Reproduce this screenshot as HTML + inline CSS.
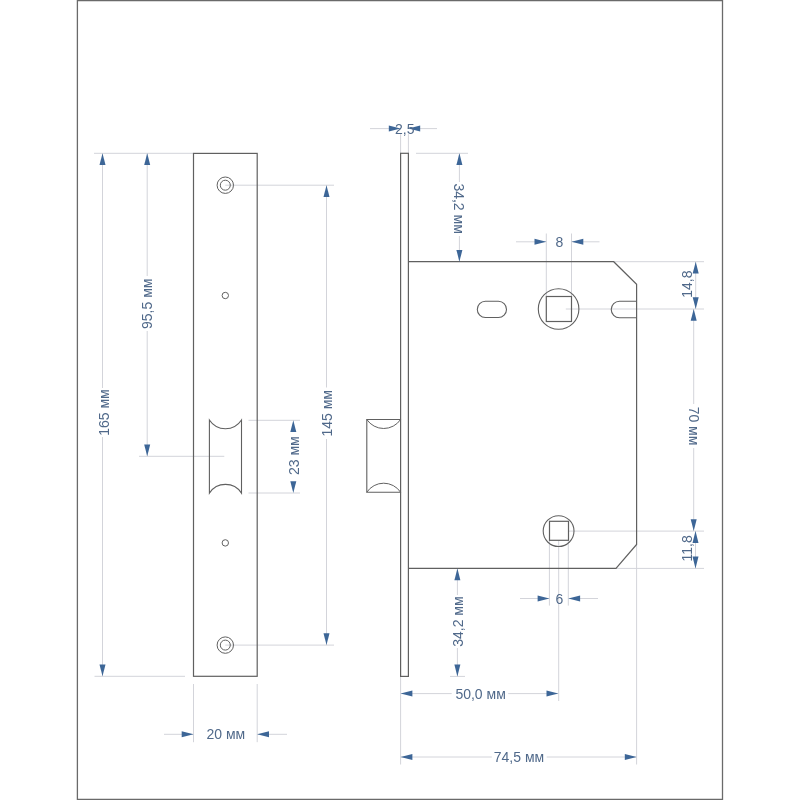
<!DOCTYPE html>
<html><head><meta charset="utf-8"><style>
html,body{margin:0;padding:0;background:#fff;width:800px;height:800px;overflow:hidden}
svg{display:block;will-change:transform}
text{font-family:"Liberation Sans",sans-serif}
</style></head><body>
<svg width="800" height="800" viewBox="0 0 800 800" font-family="Liberation Sans, sans-serif">
<line x1="225.3" y1="185.2" x2="334" y2="185.2" stroke="#d3d4da" stroke-width="1"/>
<line x1="225.3" y1="645.1" x2="334" y2="645.1" stroke="#d3d4da" stroke-width="1"/>
<line x1="94" y1="153.3" x2="193.5" y2="153.3" stroke="#d3d4da" stroke-width="1"/>
<line x1="94.5" y1="676.3" x2="185" y2="676.3" stroke="#d3d4da" stroke-width="1"/>
<line x1="102.5" y1="153.3" x2="102.5" y2="388" stroke="#d3d4da" stroke-width="1"/>
<line x1="102.5" y1="437" x2="102.5" y2="676.3" stroke="#d3d4da" stroke-width="1"/>
<line x1="147.2" y1="153.3" x2="147.2" y2="276" stroke="#d3d4da" stroke-width="1"/>
<line x1="147.2" y1="331" x2="147.2" y2="456.3" stroke="#d3d4da" stroke-width="1"/>
<line x1="139" y1="456.3" x2="224.3" y2="456.3" stroke="#d3d4da" stroke-width="1"/>
<line x1="326.5" y1="185.2" x2="326.5" y2="387.5" stroke="#d3d4da" stroke-width="1"/>
<line x1="326.5" y1="439" x2="326.5" y2="645.1" stroke="#d3d4da" stroke-width="1"/>
<line x1="248.5" y1="420.3" x2="300" y2="420.3" stroke="#d3d4da" stroke-width="1"/>
<line x1="248.5" y1="493.0" x2="300" y2="493.0" stroke="#d3d4da" stroke-width="1"/>
<line x1="193.5" y1="684" x2="193.5" y2="742.2" stroke="#d3d4da" stroke-width="1"/>
<line x1="257.2" y1="684" x2="257.2" y2="742.2" stroke="#d3d4da" stroke-width="1"/>
<line x1="164" y1="734.3" x2="193.5" y2="734.3" stroke="#d3d4da" stroke-width="1"/>
<line x1="257.2" y1="734.3" x2="287" y2="734.3" stroke="#d3d4da" stroke-width="1"/>
<line x1="400.6" y1="134.2" x2="400.6" y2="153.3" stroke="#d3d4da" stroke-width="1"/>
<line x1="408.4" y1="134.2" x2="408.4" y2="153.3" stroke="#d3d4da" stroke-width="1"/>
<line x1="370" y1="128.6" x2="400.6" y2="128.6" stroke="#d3d4da" stroke-width="1"/>
<line x1="408.4" y1="128.6" x2="437" y2="128.6" stroke="#d3d4da" stroke-width="1"/>
<line x1="416" y1="153.3" x2="468" y2="153.3" stroke="#d3d4da" stroke-width="1"/>
<line x1="459.4" y1="153.3" x2="459.4" y2="182" stroke="#d3d4da" stroke-width="1"/>
<line x1="459.4" y1="236" x2="459.4" y2="261.7" stroke="#d3d4da" stroke-width="1"/>
<line x1="546.3" y1="233.5" x2="546.3" y2="296.5" stroke="#d3d4da" stroke-width="1"/>
<line x1="571.5" y1="233.5" x2="571.5" y2="296.5" stroke="#d3d4da" stroke-width="1"/>
<line x1="516" y1="241.8" x2="546.3" y2="241.8" stroke="#d3d4da" stroke-width="1"/>
<line x1="571.5" y1="241.8" x2="599.5" y2="241.8" stroke="#d3d4da" stroke-width="1"/>
<line x1="613.7" y1="261.7" x2="704" y2="261.7" stroke="#d3d4da" stroke-width="1"/>
<line x1="565.8" y1="309" x2="704" y2="309" stroke="#d3d4da" stroke-width="1"/>
<line x1="568.5" y1="531.1" x2="704" y2="531.1" stroke="#d3d4da" stroke-width="1"/>
<line x1="616" y1="568.4" x2="704" y2="568.4" stroke="#d3d4da" stroke-width="1"/>
<line x1="695.7" y1="261.7" x2="695.7" y2="309" stroke="#d3d4da" stroke-width="1"/>
<line x1="693.7" y1="309" x2="693.7" y2="404" stroke="#d3d4da" stroke-width="1"/>
<line x1="693.7" y1="448" x2="693.7" y2="531.1" stroke="#d3d4da" stroke-width="1"/>
<line x1="695.5" y1="531.1" x2="695.5" y2="568.4" stroke="#d3d4da" stroke-width="1"/>
<line x1="549.4" y1="540.3" x2="549.4" y2="605.6" stroke="#d3d4da" stroke-width="1"/>
<line x1="568.3" y1="540.3" x2="568.3" y2="605.6" stroke="#d3d4da" stroke-width="1"/>
<line x1="558.7" y1="540.3" x2="558.7" y2="701" stroke="#d3d4da" stroke-width="1"/>
<line x1="520" y1="598.5" x2="549.4" y2="598.5" stroke="#d3d4da" stroke-width="1"/>
<line x1="568.3" y1="598.5" x2="598" y2="598.5" stroke="#d3d4da" stroke-width="1"/>
<line x1="450" y1="676.4" x2="465" y2="676.4" stroke="#d3d4da" stroke-width="1"/>
<line x1="457.4" y1="568.4" x2="457.4" y2="595" stroke="#d3d4da" stroke-width="1"/>
<line x1="457.4" y1="648" x2="457.4" y2="676.4" stroke="#d3d4da" stroke-width="1"/>
<line x1="400.6" y1="676.4" x2="400.6" y2="764.5" stroke="#d3d4da" stroke-width="1"/>
<line x1="636.6" y1="544.5" x2="636.6" y2="764.5" stroke="#d3d4da" stroke-width="1"/>
<line x1="400.6" y1="693.6" x2="451.7" y2="693.6" stroke="#d3d4da" stroke-width="1"/>
<line x1="508.2" y1="693.6" x2="558.3" y2="693.6" stroke="#d3d4da" stroke-width="1"/>
<line x1="400.6" y1="757" x2="491.8" y2="757" stroke="#d3d4da" stroke-width="1"/>
<line x1="546.7" y1="757" x2="636.6" y2="757" stroke="#d3d4da" stroke-width="1"/>
<rect x="77.4" y="0.6" width="645.1" height="798.8" fill="none" stroke="#6a6a6a" stroke-width="1.3"/>
<rect x="193.5" y="153.4" width="63.69999999999999" height="522.9" fill="none" stroke="#606060" stroke-width="1.2"/>
<circle cx="225.3" cy="185.2" r="8.2" fill="none" stroke="#606060" stroke-width="1"/>
<circle cx="225.3" cy="185.2" r="5" fill="none" stroke="#606060" stroke-width="1"/>
<circle cx="225.3" cy="645.1" r="8.2" fill="none" stroke="#606060" stroke-width="1"/>
<circle cx="225.3" cy="645.1" r="5" fill="none" stroke="#606060" stroke-width="1"/>
<circle cx="225.3" cy="295.5" r="3.2" fill="none" stroke="#606060" stroke-width="1"/>
<circle cx="225.3" cy="542.9" r="3.2" fill="none" stroke="#606060" stroke-width="1"/>
<path d="M209.4,420.0 A19.15,19.15 0 0 0 241.5,420.0 L241.5,493.1 A19.15,19.15 0 0 0 209.4,493.1 Z" fill="none" stroke="#606060" stroke-width="1.1"/>
<polygon points="102.50,153.30 99.50,165.10 105.50,165.10" fill="#3d6697"/>
<polygon points="102.50,676.30 99.50,664.50 105.50,664.50" fill="#3d6697"/>
<text transform="translate(109.3 412.5) rotate(-90)" font-size="14" fill="#50698a" text-anchor="middle">165 мм</text>
<polygon points="147.20,153.30 144.20,165.10 150.20,165.10" fill="#3d6697"/>
<polygon points="147.20,456.30 144.20,444.50 150.20,444.50" fill="#3d6697"/>
<text transform="translate(151.8 303.8) rotate(-90)" font-size="14" fill="#50698a" text-anchor="middle">95,5 мм</text>
<polygon points="326.50,185.20 323.50,197.00 329.50,197.00" fill="#3d6697"/>
<polygon points="326.50,645.10 323.50,633.30 329.50,633.30" fill="#3d6697"/>
<text transform="translate(332.3 413.3) rotate(-90)" font-size="14" fill="#50698a" text-anchor="middle">145 мм</text>
<polygon points="293.30,420.30 290.30,432.10 296.30,432.10" fill="#3d6697"/>
<polygon points="293.30,493.00 290.30,481.20 296.30,481.20" fill="#3d6697"/>
<text transform="translate(298.5 455.7) rotate(-90)" font-size="14" fill="#50698a" text-anchor="middle">23 мм</text>
<polygon points="193.50,734.30 181.70,731.30 181.70,737.30" fill="#3d6697"/>
<polygon points="257.20,734.30 269.00,731.30 269.00,737.30" fill="#3d6697"/>
<text x="225.9" y="739.1" font-size="14" fill="#50698a" text-anchor="middle">20 мм</text>
<rect x="400.6" y="153.3" width="7.7999999999999545" height="523.0999999999999" fill="none" stroke="#606060" stroke-width="1.2"/>
<path d="M408.4,261.7 L613.7,261.7 L636.6,284.3 L636.6,544.5 L616,568.4 L408.4,568.4" fill="none" stroke="#606060" stroke-width="1.2"/>
<path d="M400.6,419.5 L366.8,419.5 L366.8,492.2 L400.6,492.2" fill="none" stroke="#606060" stroke-width="1.1"/>
<path d="M366.8,419.5 A20.37,20.37 0 0 0 400.6,419.5 M366.8,492.2 A20.37,20.37 0 0 1 400.6,492.2" fill="none" stroke="#606060" stroke-width="1"/>
<rect x="477.3" y="301.3" width="29.2" height="16.2" rx="8.1" ry="8.1" fill="none" stroke="#606060" stroke-width="1.1"/>
<path d="M636.6,301.2 L619.5,301.2 A8.25,8.25 0 0 0 619.5,317.7 L636.6,317.7" fill="none" stroke="#606060" stroke-width="1.1"/>
<circle cx="558.6" cy="309" r="20.3" fill="none" stroke="#606060" stroke-width="1.1"/>
<rect x="546.3" y="296.5" width="25.2" height="25" fill="none" stroke="#606060" stroke-width="1.2"/>
<circle cx="558.6" cy="531.1" r="15.4" fill="none" stroke="#606060" stroke-width="1.1"/>
<rect x="549.5" y="521.3" width="19" height="19" fill="none" stroke="#606060" stroke-width="1.2"/>
<polygon points="400.60,128.60 388.80,125.60 388.80,131.60" fill="#3d6697"/>
<polygon points="408.40,128.60 420.20,125.60 420.20,131.60" fill="#3d6697"/>
<text x="404.8" y="133.8" font-size="14" fill="#50698a" text-anchor="middle">2,5</text>
<polygon points="459.40,153.30 456.40,165.10 462.40,165.10" fill="#3d6697"/>
<polygon points="459.40,261.70 456.40,249.90 462.40,249.90" fill="#3d6697"/>
<text transform="translate(453.8 208.6) rotate(90)" font-size="14" fill="#50698a" text-anchor="middle">34,2 мм</text>
<polygon points="546.30,241.80 534.50,238.80 534.50,244.80" fill="#3d6697"/>
<polygon points="571.50,241.80 583.30,238.80 583.30,244.80" fill="#3d6697"/>
<text x="559.4" y="246.7" font-size="14" fill="#50698a" text-anchor="middle">8</text>
<polygon points="695.70,261.70 692.70,273.50 698.70,273.50" fill="#3d6697"/>
<polygon points="695.70,309.00 692.70,297.20 698.70,297.20" fill="#3d6697"/>
<text transform="translate(691.7 284.2) rotate(-90)" font-size="14" fill="#50698a" text-anchor="middle">14,8</text>
<polygon points="693.70,309.00 690.70,320.80 696.70,320.80" fill="#3d6697"/>
<polygon points="693.70,531.10 690.70,519.30 696.70,519.30" fill="#3d6697"/>
<text transform="translate(688.8 426) rotate(90)" font-size="14" fill="#50698a" text-anchor="middle">70 мм</text>
<polygon points="695.50,531.10 692.50,542.90 698.50,542.90" fill="#3d6697"/>
<polygon points="695.50,568.40 692.50,556.60 698.50,556.60" fill="#3d6697"/>
<text transform="translate(692.3 548.4) rotate(-90)" font-size="14" fill="#50698a" text-anchor="middle">11,8</text>
<polygon points="549.40,598.50 537.60,595.50 537.60,601.50" fill="#3d6697"/>
<polygon points="568.30,598.50 580.10,595.50 580.10,601.50" fill="#3d6697"/>
<text x="559.4" y="603.5" font-size="14" fill="#50698a" text-anchor="middle">6</text>
<polygon points="457.40,568.40 454.40,580.20 460.40,580.20" fill="#3d6697"/>
<polygon points="457.40,676.40 454.40,664.60 460.40,664.60" fill="#3d6697"/>
<text transform="translate(462.5 621.6) rotate(-90)" font-size="14" fill="#50698a" text-anchor="middle">34,2 мм</text>
<polygon points="400.60,693.60 412.40,690.60 412.40,696.60" fill="#3d6697"/>
<polygon points="558.30,693.60 546.50,690.60 546.50,696.60" fill="#3d6697"/>
<text x="480.6" y="699" font-size="14" fill="#50698a" text-anchor="middle">50,0 мм</text>
<polygon points="400.60,757.00 412.40,754.00 412.40,760.00" fill="#3d6697"/>
<polygon points="636.60,757.00 624.80,754.00 624.80,760.00" fill="#3d6697"/>
<text x="519" y="762.3" font-size="14" fill="#50698a" text-anchor="middle">74,5 мм</text>
</svg>
</body></html>
